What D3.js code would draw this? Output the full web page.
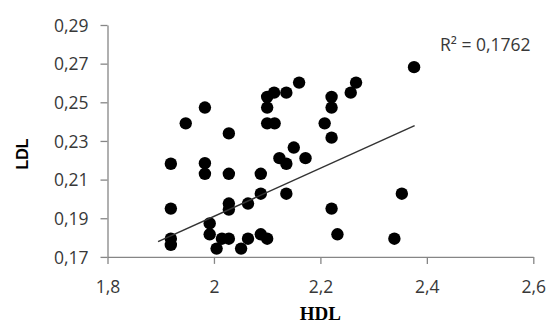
<!DOCTYPE html>
<html>
<head>
<meta charset="utf-8">
<script src="https://cdn.jsdelivr.net/npm/d3@7"></script>
<style>
  html, body { margin: 0; padding: 0; background: #fff; }
  svg { display: block; }
</style>
</head>
<body>
<svg id="chart" width="547" height="325"></svg>
<script>
// ---- data ----
const hdl = [1.919,1.919,1.919,1.919,1.947,1.983,1.983,1.983,1.992,1.992,
             2.005,2.015,2.028,2.028,2.028,2.028,2.028,2.051,2.064,2.064,
             2.088,2.088,2.088,2.100,2.100,2.100,2.100,2.113,2.114,2.123,
             2.136,2.136,2.136,2.150,2.160,2.172,2.208,2.221,2.221,2.221,
             2.221,2.232,2.257,2.267,2.339,2.353,2.376];
const ldl = [0.2182,0.1950,0.1794,0.1762,0.2391,0.2473,0.2185,0.2130,0.1873,0.1817,
             0.1743,0.1794,0.2339,0.2130,0.1976,0.1945,0.1794,0.1743,0.1976,0.1794,
             0.2130,0.2027,0.1817,0.2528,0.2473,0.2391,0.1794,0.2550,0.2391,0.2211,
             0.2550,0.2182,0.2027,0.2266,0.2602,0.2211,0.2391,0.2528,0.2473,0.2317,
             0.1950,0.1817,0.2550,0.2602,0.1794,0.2027,0.2682];
const trendX = [1.895, 2.377];
const trendY = [0.1779, 0.2379];
const xTicks = [1.8, 2.0, 2.2, 2.4, 2.6];
const yTicks = [0.17, 0.19, 0.21, 0.23, 0.25, 0.27, 0.29];
const r2Label = "R² = 0,1762";
const xTitle = "HDL";
const yTitle = "LDL";

// ---- layout ----
const svg = d3.select("#chart");
const x = d3.scaleLinear().domain([1.8, 2.6]).range([107.5, 533.3]);
const y = d3.scaleLinear().domain([0.17, 0.29]).range([256.9, 25]);
const fmt = d => d3.format(",")(d).replace(".", ",");
const axisColor = "#868686";

const defs = svg.append("defs");
defs.append("filter").attr("id", "soft")
  .attr("x", "-50%").attr("y", "-50%").attr("width", "200%").attr("height", "200%")
  .append("feGaussianBlur").attr("stdDeviation", 0.75);

// x axis
const xAxis = svg.append("g")
  .attr("transform", `translate(0,${y(0.17)})`)
  .call(d3.axisBottom(x).tickValues(xTicks).tickSize(7).tickSizeOuter(0)
        .tickFormat(d => fmt(+d.toFixed(1))));
// y axis
const yAxis = svg.append("g")
  .attr("transform", `translate(${x(1.8)},0)`)
  .call(d3.axisLeft(y).tickValues(yTicks).tickSize(7).tickSizeOuter(0)
        .tickFormat(d => fmt(+d.toFixed(2))));

[xAxis, yAxis].forEach(g => {
  g.select(".domain").attr("stroke", axisColor).attr("stroke-width", 1.3);
  g.selectAll(".tick line").attr("stroke", axisColor).attr("stroke-width", 1.3);
  g.selectAll(".tick text")
    .attr("fill", "#383838")
    .style("font-family", "'Open Sans', sans-serif")
    .style("font-size", "17.5px");
});
xAxis.selectAll(".tick text").attr("y", 0).attr("dy", 0)
  .attr("transform", "translate(0,36)");
yAxis.selectAll(".tick text").attr("x", -19).attr("dy", "0.36em");

// points
svg.append("g").attr("filter", "url(#soft)")
  .selectAll("circle")
  .data(hdl.map((h, i) => [h, ldl[i]]))
  .join("circle")
  .attr("cx", d => x(d[0]))
  .attr("cy", d => y(d[1]))
  .attr("r", 6.2)
  .attr("fill", "#000");

// trend line
svg.append("path")
  .datum(trendX.map((t, i) => [t, trendY[i]]))
  .attr("d", d3.line().x(d => x(d[0])).y(d => y(d[1])))
  .attr("fill", "none")
  .attr("stroke", "#333")
  .attr("stroke-width", 1.5);

// R² label
svg.append("text")
  .attr("x", 440).attr("y", 51)
  .attr("fill", "#383838")
  .style("font-family", "'Open Sans', sans-serif")
  .style("font-size", "17.5px")
  .text(r2Label);

// axis titles
svg.append("text")
  .attr("x", 320.4).attr("y", 320)
  .attr("text-anchor", "middle")
  .style("font-family", "'Liberation Serif', serif")
  .style("font-weight", "bold")
  .style("font-size", "19px")
  .text(xTitle);

svg.append("text")
  .attr("transform", "translate(27.5,154) rotate(-90)")
  .attr("text-anchor", "middle")
  .style("font-family", "'Liberation Sans', sans-serif")
  .style("font-weight", "bold")
  .style("font-size", "16px")
  .text(yTitle);
</script>
</body>
</html>
